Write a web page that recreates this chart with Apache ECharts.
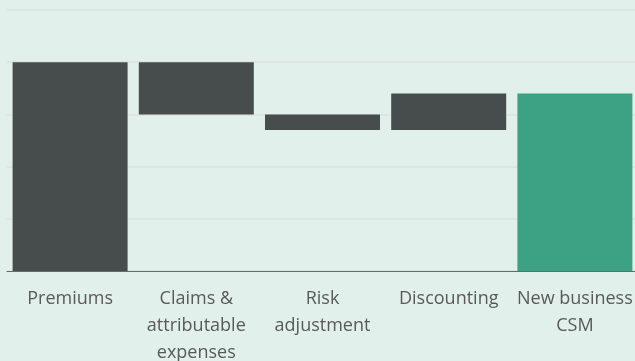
<!DOCTYPE html>
<html>
<head>
<meta charset="utf-8">
<script src="https://cdn.jsdelivr.net/npm/echarts@6/dist/echarts.min.js"></script>
<style>
  html, body { margin: 0; padding: 0; background: #e2f0eb; }
  #chart { width: 635px; height: 361px; }
</style>
</head>
<body>
<div id="chart"></div>
<script>
// Waterfall steps from premiums to new business CSM
const categories = ['Premiums', 'Claims &\nattributable\nexpenses', 'Risk\nadjustment', 'Discounting', 'New business\nCSM'];
const changes = [4.0, -1.0, -0.3, 0.7];      // movements of the bridge
const totalIndex = 4;                         // last column is the resulting total

// Build invisible offsets and visible segment heights from the running sum
const baseValues = [];
const barValues = [];
let running = 0;
changes.forEach(function (d) {
  const start = running;
  const end = running + d;
  baseValues.push(Math.min(start, end));
  barValues.push(Math.abs(d));
  running = end;
});
baseValues.push(0);
barValues.push(running);

const DARK = '#474d4c';
const GREEN = '#3ca283';

const chart = echarts.init(document.getElementById('chart'), null, { renderer: 'canvas' });
chart.setOption({
  backgroundColor: '#e2f0eb',
  animation: false,
  grid: { left: 7, right: -3, top: 10, bottom: 90, containLabel: false, outerBoundsMode: 'none' },
  xAxis: {
    type: 'category',
    data: categories,
    axisLine: { show: true, lineStyle: { color: '#666b6a', width: 1.2 } },
    axisTick: { show: false },
    axisLabel: {
      interval: 0,
      margin: 14,
      color: '#595959',
      fontFamily: 'Open Sans',
      fontSize: 18,
      lineHeight: 27
    }
  },
  yAxis: {
    type: 'value',
    min: 0,
    max: 5,
    interval: 1,
    axisLabel: { show: false },
    axisLine: { show: false },
    axisTick: { show: false },
    splitLine: { show: true, lineStyle: { color: '#dfe3e1', width: 2 } }
  },
  series: [
    {
      type: 'bar',
      stack: 'bridge',
      data: baseValues,
      barWidth: 115,
      itemStyle: { color: 'transparent' },
      silent: true
    },
    {
      type: 'bar',
      stack: 'bridge',
      barWidth: 115,
      data: barValues.map(function (v, i) {
        return {
          value: v,
          itemStyle: { color: i === totalIndex ? GREEN : DARK }
        };
      })
    }
  ]
});
</script>
</body>
</html>
